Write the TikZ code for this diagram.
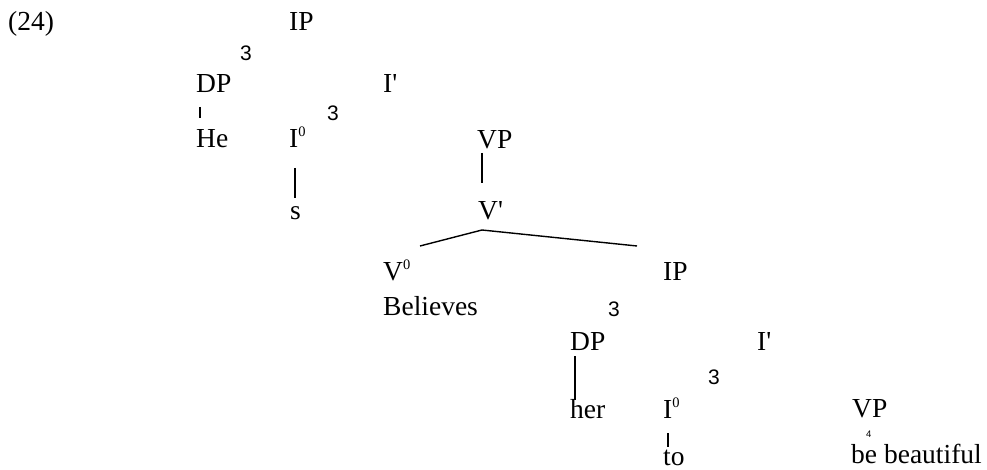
\documentclass[tikz,border=0pt]{standalone}
\usepackage{fontspec}
\setmainfont{Liberation Serif}[Ligatures=TeXOff]
\newfontfamily\brfont{Liberation Sans}
\begin{document}
\begin{tikzpicture}[x=1pt,y=-1pt,
  lbl/.style={anchor=base west,inner sep=0pt,font=\fontsize{27.5}{30}\selectfont},
  brk/.style={anchor=base west,inner sep=0pt,font=\brfont\fontsize{21}{23}\selectfont},
  tiny/.style={anchor=base west,inner sep=0pt,font=\brfont\fontsize{9.5}{11}\selectfont},
  edge/.style={line width=1.4pt},
  tick/.style={line width=1.1pt}]
\newcommand{\zsup}{\raisebox{11pt}{\fontsize{14.5}{15}\selectfont 0}}
\useasboundingbox (0,0) rectangle (987,470);
% row 1
\node[lbl] (n24) at (8,31) {(24)};
\node[lbl] (ipA) at (289,31) {IP};
\node[brk] (brA) at (240,61) {3};
% row 2
\node[lbl] (dpA) at (196,93) {DP};
\node[lbl] (ibarA) at (383,93) {I'};
\node[brk] (brB) at (327,121) {3};
% row 3
\node[lbl] (he) at (196,148) {He};
\node[lbl] (izA) at (289,148) {I\zsup};
\node[lbl] (vpA) at (477,149) {VP};
% row 4
\node[lbl] (s) at (290,220) {s};
\node[lbl] (vbar) at (478,220) {V'};
% row 5
\node[lbl] (vz) at (383,280) {V\zsup};
\node[lbl] (ipB) at (663,280) {IP};
\node[lbl] (believes) at (383,315) {Believes};
\node[brk] (brC) at (608,316) {3};
% row 6
\node[lbl] (dpB) at (570,350) {DP};
\node[lbl] (ibarB) at (757,350) {I'};
\node[brk] (brD) at (708,384) {3};
% row 7
\node[lbl] (her) at (570,418) {her};
\node[lbl] (izB) at (663,418) {I\zsup};
\node[lbl] (vpB) at (852,417) {VP};
\node[tiny] (brE) at (866,437) {4};
\node[lbl] (to) at (663,465) {to};
\node[lbl] (bb) at (851,463) {be beautiful};
% connector end points
\coordinate (t1a) at (200,107);
\coordinate (t1b) at (200,118);
\coordinate (isa) at (295,168);
\coordinate (isb) at (295,198);
\coordinate (vpa) at (482,153);
\coordinate (vpb) at (482,183);
\coordinate (vtop) at (482,230);
\coordinate (vl) at (420,246);
\coordinate (vr) at (637,246);
\coordinate (dha) at (575,356);
\coordinate (dhb) at (575,400);
\coordinate (t2a) at (668,433);
\coordinate (t2b) at (668,447);
% connectors
\draw[tick] (t1a) -- (t1b);
\draw[edge] (isa) -- (isb);
\draw[edge] (vpa) -- (vpb);
\draw[edge] (vl) -- (vtop) -- (vr);
\draw[edge] (dha) -- (dhb);
\draw[tick] (t2a) -- (t2b);
\end{tikzpicture}
\end{document}
